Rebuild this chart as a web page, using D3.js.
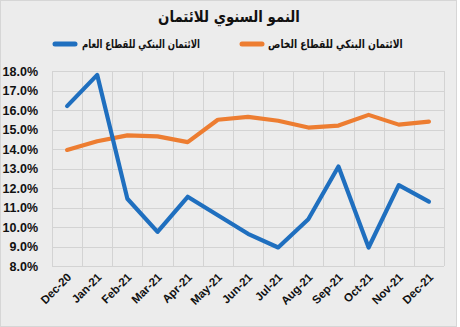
<!DOCTYPE html>
<html><head><meta charset="utf-8">
<script src="https://cdn.jsdelivr.net/npm/d3@7"></script>
<style>
html,body{margin:0;padding:0;background:#fff;}
svg{display:block;}
</style></head>
<body>
<svg id="chart" width="460" height="327"></svg>
<script>
const months = ["Dec-20","Jan-21","Feb-21","Mar-21","Apr-21","May-21","Jun-21","Jul-21","Aug-21","Sep-21","Oct-21","Nov-21","Dec-21"];
const publicSector = [16.2, 17.8, 11.45, 9.75, 11.55, 10.6, 9.65, 8.95, 10.4, 13.1, 8.95, 12.15, 11.3];
const privateSector = [13.95, 14.4, 14.7, 14.65, 14.35, 15.5, 15.65, 15.45, 15.1, 15.2, 15.75, 15.25, 15.4];
const yTicks = [8,9,10,11,12,13,14,15,16,17,18];
const title = "النمو السنوي للائتمان";
const legendPublic = "الائتمان البنكي للقطاع العام";
const legendPrivate = "الائتمان البنكي للقطاع الخاص";

const svg = d3.select("#chart");
const W = 460, H = 327;
svg.append("rect").attr("x",0.5).attr("y",0.5).attr("width",W-4).attr("height",H-1)
  .attr("fill","#ececec").attr("stroke","#d6d6d6");

const m = {left:52, right:444, top:71, bottom:266};
const x = d3.scaleBand().domain(months).range([m.left, m.right]).padding(0);
const y = d3.scaleLinear().domain([8,18]).range([m.bottom, m.top]);

const grid = svg.append("g").attr("stroke","#d3d3d3").attr("stroke-width",1);
yTicks.forEach(t => grid.append("line").attr("x1",m.left).attr("x2",m.right)
  .attr("y1",Math.round(y(t))+0.5).attr("y2",Math.round(y(t))+0.5));
const bounds = months.map(mo => x(mo)).concat([m.right]);
bounds.forEach(b => grid.append("line").attr("y1",m.top).attr("y2",m.bottom)
  .attr("x1",Math.round(b)+0.5).attr("x2",Math.round(b)+0.5));

const font = "'Liberation Sans', Arial, sans-serif";
const arFont = "'DejaVu Sans', 'Noto Sans', sans-serif";

const yAxis = d3.axisLeft(y).tickValues(yTicks).tickFormat(d => d.toFixed(1) + "%").tickSize(0).tickPadding(0);
const ya = svg.append("g").attr("transform",`translate(${m.left-14},0)`).call(yAxis);
ya.select(".domain").remove();
ya.selectAll("text").attr("font-family",font).attr("font-weight","bold").attr("font-size",12.5).attr("fill","#111").attr("dy","0.35em");

const xAxis = d3.axisBottom(x).tickSize(0).tickPadding(0);
const xa = svg.append("g").attr("transform",`translate(0,${m.bottom})`).call(xAxis);
xa.select(".domain").remove();
xa.selectAll("text").attr("font-family",font).attr("font-weight","bold").attr("font-size",11.5).attr("fill","#111")
  .attr("text-anchor","end").attr("dy",null).attr("y",0)
  .attr("transform","translate(5,12) rotate(-45)");

const line = d3.line().x((d,i) => x(months[i]) + x.bandwidth()/2).y(d => y(d));
svg.append("path").datum(privateSector).attr("d",line).attr("fill","none")
  .attr("stroke","#ed7d31").attr("stroke-width",4.2).attr("stroke-linejoin","round").attr("stroke-linecap","round");
svg.append("path").datum(publicSector).attr("d",line).attr("fill","none")
  .attr("stroke","#1f6fbf").attr("stroke-width",4.2).attr("stroke-linejoin","round").attr("stroke-linecap","round");

// place text so that it spans [x0, x1] by horizontal scaling, keeping glyph height
function fitText(str, x0, x1, baseline, size) {
  const g = svg.append("g");
  const t = g.append("text").attr("x",0).attr("y",baseline).attr("text-anchor","start")
    .attr("font-family",arFont).attr("font-weight","bold").attr("font-size",size).attr("fill","#111").text(str);
  const bb = t.node().getBBox();
  const s = (x1 - x0) / bb.width;
  g.attr("transform", `translate(${x0 - bb.x * s},0) scale(${s},1)`);
  return t;
}
fitText(title, 158, 300, 22, 16);

const leg = [{t:legendPublic,c:"#1f6fbf",sx:53,t0:82,t1:200},{t:legendPrivate,c:"#ed7d31",sx:240,t0:268,t1:403}];
leg.forEach(l => {
  svg.append("line").attr("x1",l.sx+2).attr("x2",l.sx+22).attr("y1",44).attr("y2",44)
    .attr("stroke",l.c).attr("stroke-width",5).attr("stroke-linecap","round");
  fitText(l.t, l.t0, l.t1, 48, 11.5);
});
</script>
</body></html>
